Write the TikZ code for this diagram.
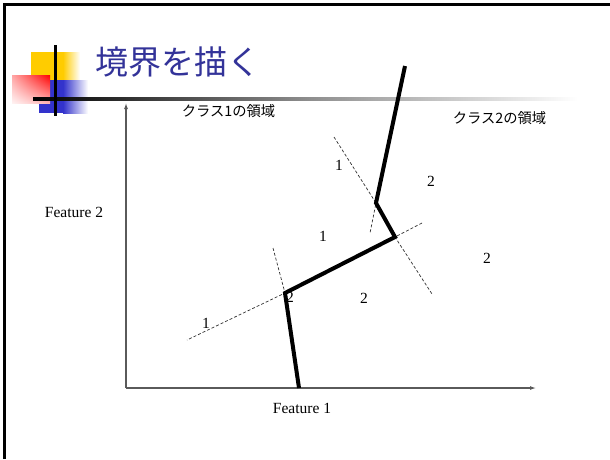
\documentclass[tikz,border=0pt]{standalone}
\usepackage{fontspec}
\setmainfont{Liberation Serif}
\newfontfamily\jpfont{Noto Sans CJK JP}
\usetikzlibrary{arrows.meta,shadings}
\definecolor{titleblue}{RGB}{51,51,153}
\definecolor{logoyellow}{RGB}{255,204,0}
\definecolor{logoblue}{RGB}{51,51,204}
\definecolor{axisgray}{RGB}{90,90,90}
\tikzset{
  axisline/.style={draw=axisgray, line width=1.1pt, -{Latex[length=6pt,width=4pt]}},
  boundary/.style={draw=black, line width=4pt, line join=miter},
  bisector/.style={draw=black!80, line width=0.7pt, dash pattern=on 3pt off 2pt},
  numlabel/.style={font=\fontsize{15.5}{17}\selectfont, inner sep=0pt},
  featlabel/.style={font=\fontsize{15.5}{17}\selectfont, inner sep=0pt},
  regionlabel/.style={font=\jpfont\fontsize{14.3}{16}\selectfont, inner sep=0pt},
}
\begin{document}
\begin{tikzpicture}[x=1pt,y=-1pt]
\useasboundingbox (0,0) rectangle (610,459);
\fill[white] (0,0) rectangle (610,459);
% frame
\draw[line width=3pt] (4.5,459) -- (4.5,4.5) -- (610,4.5);
% logo
\fill[logoyellow] (31,52) rectangle (63,80);
\shade[left color=logoyellow, right color=white] (63,52) rectangle (80,80);
\fill[logoblue] (39,80) rectangle (63,113);
\shade[left color=logoblue, right color=white] (63,80) rectangle (88,113);
\shade[upper right=red, upper left=red!35, lower right=red!30, lower left=red!5] (12,75) rectangle (50,103);
\shade[left color=black, right color=white, middle color=black!45] (33,97.5) rectangle (578,100.5);
\draw[line width=3pt] (55,45) -- (55,116);
% title
\node[text=titleblue, font=\jpfont\fontsize{33}{36}\selectfont, anchor=west, inner sep=0pt] (title) at (95,62) {境界を描く};
% axes
\coordinate (O) at (126,388);
\coordinate (ytop) at (126,103);
\coordinate (xend) at (536,388);
\draw[axisline] (O) -- (ytop);
\draw[axisline] (O) -- (xend);
\node[featlabel] (f2) at (74,212) {Feature 2};
\node[featlabel] (f1) at (302,408) {Feature 1};
\node[regionlabel] (r1) at (228.5,111) {クラス1の領域};
\node[regionlabel] (r2) at (499.5,118) {クラス2の領域};
% boundary points
\coordinate (b0) at (405,66);
\coordinate (b1) at (376,203);
\coordinate (b2) at (395,237);
\coordinate (b3) at (285,293);
\coordinate (b4) at (299,388);
% bisector ends
\coordinate (d1a) at (334,137);
\coordinate (d1b) at (370,233);
\coordinate (d2a) at (422,223);
\coordinate (d2b) at (432,294);
\coordinate (d3a) at (273,248);
\coordinate (d3b) at (187,340);
\draw[bisector] (d1a) -- (b1) -- (d1b);
\draw[bisector] (d2a) -- (b2) -- (d2b);
\draw[bisector] (d3a) -- (b3) -- (d3b);
% numbers
\node[numlabel] (n1) at (339,165) {1};
\node[numlabel] (n2) at (431,181) {2};
\node[numlabel] (n3) at (323,236) {1};
\node[numlabel] (n4) at (487,258) {2};
\node[numlabel] (n5) at (364,298) {2};
\node[numlabel] (n6) at (206,323) {1};
\node[numlabel] (n7) at (290,297) {2};
% boundary
\draw[boundary] (b0) -- (b1) -- (b2) -- (b3) -- (b4);
\end{tikzpicture}
\end{document}
